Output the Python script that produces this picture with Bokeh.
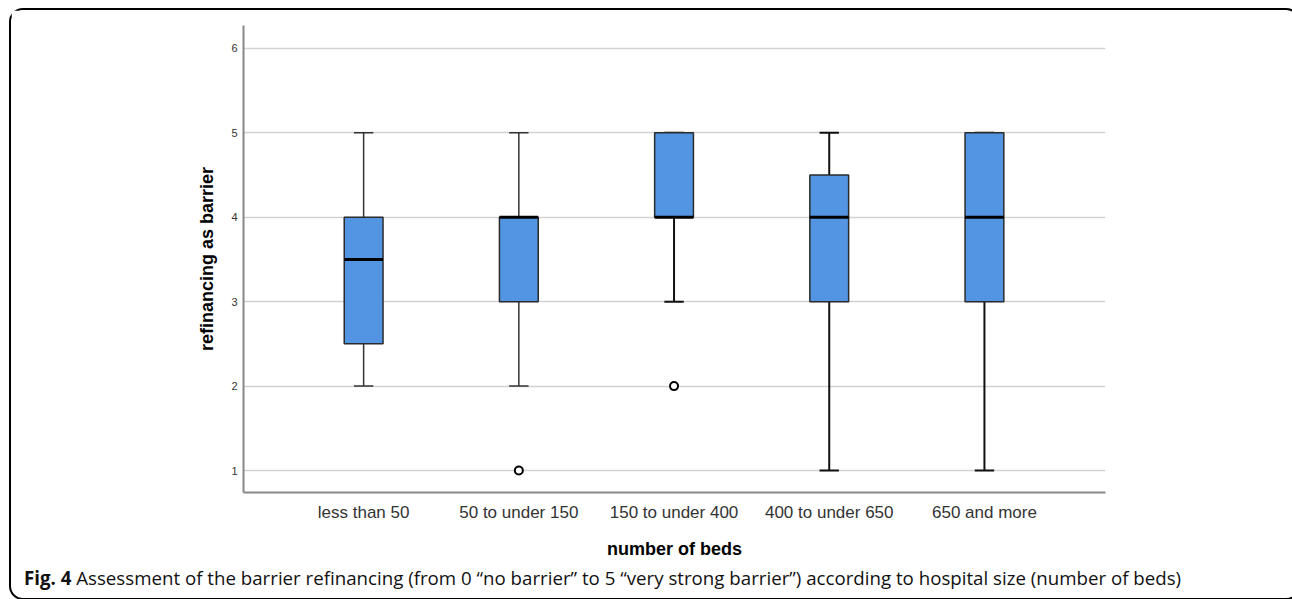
from bokeh.plotting import figure
from bokeh.models import FixedTicker, Range1d, ColumnDataSource, Div
from bokeh.layouts import column
from bokeh.embed import file_html
from bokeh.resources import INLINE

categories = ["less than 50", "50 to under 150", "150 to under 400", "400 to under 650", "650 and more"]
whisker_low = [2, 2, 3, 1, 1]
q1 = [2.5, 3, 4, 3, 3]
median = [3.5, 4, 4, 4, 4]
q3 = [4, 4, 5, 4.5, 5]
whisker_high = [5, 5, 5, 5, 5]
outlier_cat = [2, 3]          # 1-based category index
outlier_val = [1, 2]
y_ticks = [1, 2, 3, 4, 5, 6]
caption_bold = "Fig. 4"
caption_text = ("Assessment of the barrier refinancing (from 0 \u201cno barrier\u201d to 5 "
                "\u201cvery strong barrier\u201d) according to hospital size (number of beds)")

xs = list(range(1, len(categories) + 1))

p = figure(frame_width=862, frame_height=467, output_backend="svg", toolbar_location=None,
           x_range=Range1d(0.226, 5.78), y_range=Range1d(0.74, 6.27),
           min_border_left=232, min_border_right=183, min_border_top=15, min_border_bottom=70)
p.outline_line_color = None
p.background_fill_color = "white"
p.border_fill_color = "white"

src = ColumnDataSource(dict(x=xs, lo=whisker_low, q1=q1, med=median, q3=q3, hi=whisker_high))
src.data["wc"] = ["#333333", "#333333", "#111111", "#111111", "#111111"]
src.data["ww"] = [1.5, 1.5, 2, 2, 2]

# whiskers
p.segment(x0="x", y0="lo", x1="x", y1="q1", source=src, line_color="wc", line_width="ww")
p.segment(x0="x", y0="q3", x1="x", y1="hi", source=src, line_color="wc", line_width="ww")
cap = 0.0625
src.data["cl"] = [x - cap for x in xs]
src.data["cr"] = [x + cap for x in xs]
p.segment(x0="cl", y0="lo", x1="cr", y1="lo", source=src, line_color="wc", line_width="ww")
p.segment(x0="cl", y0="hi", x1="cr", y1="hi", source=src, line_color="wc", line_width="ww")
# boxes
p.vbar(x="x", width=0.25, bottom="q1", top="q3", source=src,
       fill_color="#5394e3", line_color="#2b2b2b", line_width=1.5)
# medians
src.data["ml"] = [x - 0.125 for x in xs]
src.data["mr"] = [x + 0.125 for x in xs]
p.segment(x0="ml", y0="med", x1="mr", y1="med", source=src, line_color="black", line_width=3)
# outliers
p.scatter(outlier_cat, outlier_val, size=8, marker="circle", fill_color="white",
          line_color="black", line_width=2)

# axes
p.xaxis.ticker = FixedTicker(ticks=xs)
p.xaxis.major_label_overrides = {x: c for x, c in zip(xs, categories)}
p.yaxis.ticker = FixedTicker(ticks=y_ticks)
for ax in (p.xaxis[0], p.yaxis[0]):
    ax.major_tick_line_color = None
    ax.minor_tick_line_color = None
    ax.major_tick_out = 0
    ax.major_tick_in = 0
    ax.minor_tick_out = 0
    ax.minor_tick_in = 0
    ax.axis_line_color = "#888888"
    ax.axis_line_width = 2
p.xaxis.major_label_text_font = "Liberation Sans"
p.xaxis.major_label_text_font_size = "17px"
p.xaxis.major_label_text_color = "#333333"
p.xaxis.major_label_standoff = 10
p.xaxis.axis_label = "number of beds"
p.xaxis.axis_label_text_font = "Liberation Sans"
p.xaxis.axis_label_text_font_size = "18px"
p.xaxis.axis_label_text_font_style = "bold"
p.xaxis.axis_label_text_color = "black"
p.xaxis.axis_label_standoff = 14

p.yaxis.major_label_text_font = "Liberation Sans"
p.yaxis.major_label_text_font_size = "11px"
p.yaxis.major_label_text_color = "#333333"
p.yaxis.major_label_standoff = 6
p.yaxis.axis_label = "refinancing as barrier"
p.yaxis.axis_label_text_font = "Liberation Sans"
p.yaxis.axis_label_text_font_size = "18px"
p.yaxis.axis_label_text_font_style = "bold"
p.yaxis.axis_label_text_color = "black"
p.yaxis.axis_label_standoff = 11

p.xgrid.grid_line_color = None
p.ygrid.grid_line_color = "#d2d2d2"
p.ygrid.grid_line_width = 1.5

cap_div = Div(
    text=("<div style=\"font-family:'Open Sans';font-size:18.7px;line-height:20px;"
          "padding:1px 0 0 8px;color:#111;white-space:nowrap\">"
          f"<b>{caption_bold}</b> {caption_text}</div>"),
    width=1277, height=26)

layout = column(p, cap_div, spacing=0,
                styles={"border": "2px solid black", "border-radius": "14px",
                        "margin-left": "9px", "margin-top": "8px", "background": "white"})

open("out.html", "w").write(file_html(layout, INLINE))
